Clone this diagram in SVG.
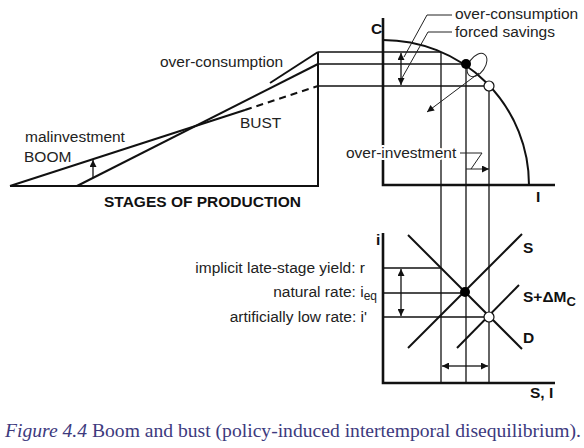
<svg xmlns="http://www.w3.org/2000/svg" width="584" height="448" viewBox="0 0 584 448">
<style>
.ln{stroke:#111;fill:none;stroke-width:2}
.ax{stroke:#111;fill:none;stroke-width:2.6}
.gd{stroke:#111;fill:none;stroke-width:1.3}
.th{stroke:#222;fill:none;stroke-width:1}
.t{font-family:"Liberation Sans",Arial,sans-serif;font-size:15.5px;fill:#222}
.b{font-weight:bold;fill:#111}
.ko{stroke:#fff;stroke-width:4;paint-order:stroke;stroke-linejoin:round}
.cap{font-family:"Liberation Serif","Times New Roman",serif;font-size:19px;fill:#3d3a7e}
</style>
<defs>
<marker id="ah" viewBox="0 0 10 10" refX="10" refY="5" markerWidth="9" markerHeight="7" markerUnits="userSpaceOnUse" orient="auto-start-reverse"><path d="M0,0 L10,5 L0,10 z" fill="#111"/></marker>
</defs>
<rect width="584" height="448" fill="#fff"/>

<g id="stages-of-production">
<path class="ln" d="M10,186 H318 V52"/>
<line class="ln" x1="10" y1="186" x2="245" y2="110"/>
<line class="ln" x1="245" y1="110" x2="318" y2="86" stroke-dasharray="7,5"/>
<line class="ln" x1="77" y1="186" x2="318" y2="64"/>
<line class="ln" x1="270" y1="83" x2="318" y2="52"/>
<line class="gd" x1="93" y1="178" x2="93" y2="160" marker-end="url(#ah)"/>
<text class="t" x="160" y="67">over-consumption</text>
<text class="t" x="25" y="142">malinvestment</text>
<text class="t" x="24" y="162">BOOM</text>
<text class="t" x="240" y="128">BUST</text>
<text class="t b" x="104" y="207">STAGES OF PRODUCTION</text>
</g>

<g id="ppf-chart">
<path class="ax" d="M383,18 V185 H555"/>
<path class="ln" d="M383,40 A146,145 0 0 1 529,185"/>
<text class="t b" x="371" y="34">C</text>
<text class="t b" x="536" y="202">I</text>
</g>

<g id="loanable-funds-chart">
<path class="ax" d="M383,233 V383 H555"/>
<line class="ln" x1="408" y1="235" x2="522" y2="349"/>
<line class="ln" x1="408" y1="348" x2="522" y2="234"/>
<line class="ln" x1="457" y1="348" x2="519" y2="285"/>
<text class="t b" x="523" y="253">S</text>
<text class="t b" x="523" y="302">S+ΔM<tspan dy="4" font-size="13">C</tspan></text>
<text class="t b" x="523" y="343">D</text>
<text class="t b" x="530" y="398">S, I</text>
<text class="t b" x="376" y="245">i</text>
<text class="t" x="365" y="273" text-anchor="end">implicit late-stage yield: r</text>
<text class="t" x="377" y="297" text-anchor="end">natural rate: i<tspan dy="3" font-size="12">eq</tspan></text>
<text class="t" x="367" y="322" text-anchor="end">artificially low rate: i'</text>
</g>

<g id="connectors">
<line class="gd" x1="318" y1="52" x2="441" y2="52"/>
<line class="gd" x1="318" y1="64" x2="466" y2="64"/>
<line class="gd" x1="318" y1="86" x2="489" y2="86"/>
<line class="gd" x1="441" y1="52" x2="441" y2="383"/>
<line class="gd" x1="466" y1="64" x2="466" y2="383"/>
<line class="gd" x1="489" y1="86" x2="489" y2="383"/>
<line class="gd" x1="383" y1="268" x2="441" y2="268" stroke="#999"/>
<line class="gd" x1="383" y1="293" x2="466" y2="293"/>
<line class="gd" x1="383" y1="317" x2="489" y2="317"/>
<line class="gd" x1="401" y1="69" x2="401" y2="53" marker-end="url(#ah)"/>
<line class="gd" x1="401" y1="69" x2="401" y2="85" marker-end="url(#ah)"/>
<line class="gd" x1="401" y1="292" x2="401" y2="269" marker-end="url(#ah)"/>
<line class="gd" x1="401" y1="292" x2="401" y2="316" marker-end="url(#ah)"/>
<line class="gd" x1="465" y1="366" x2="442" y2="366" marker-end="url(#ah)"/>
<line class="gd" x1="465" y1="366" x2="488" y2="366" marker-end="url(#ah)"/>
<polyline class="th" points="452,15 427,15 404,57"/>
<polyline class="th" points="452,32 428,32 402,78"/>
<polyline class="th" points="460,153 482,153 471,169"/>
<line class="th" x1="466" y1="169" x2="489" y2="169" marker-end="url(#ah)"/>
<ellipse class="th" cx="477" cy="65" rx="13" ry="8" transform="rotate(-55 477 65)"/>
<line class="th" x1="479" y1="73" x2="427" y2="112" marker-end="url(#ah)"/>
<text class="t" x="455" y="19">over-consumption</text>
<text class="t" x="455" y="37">forced savings</text>
<text class="t ko" x="346" y="158">over-investment</text>
</g>

<g id="points">
<circle cx="466" cy="64" r="5" fill="#000"/>
<circle cx="489" cy="86" r="5" fill="#fff" stroke="#111" stroke-width="1.2"/>
<circle cx="465" cy="292" r="5" fill="#000"/>
<circle cx="489" cy="317" r="5" fill="#fff" stroke="#111" stroke-width="1.2"/>
</g>

<text class="cap" x="5" y="437" textLength="576" lengthAdjust="spacingAndGlyphs"><tspan font-style="italic">Figure 4.4</tspan> Boom and bust (policy-induced intertemporal disequilibrium).</text>
</svg>
